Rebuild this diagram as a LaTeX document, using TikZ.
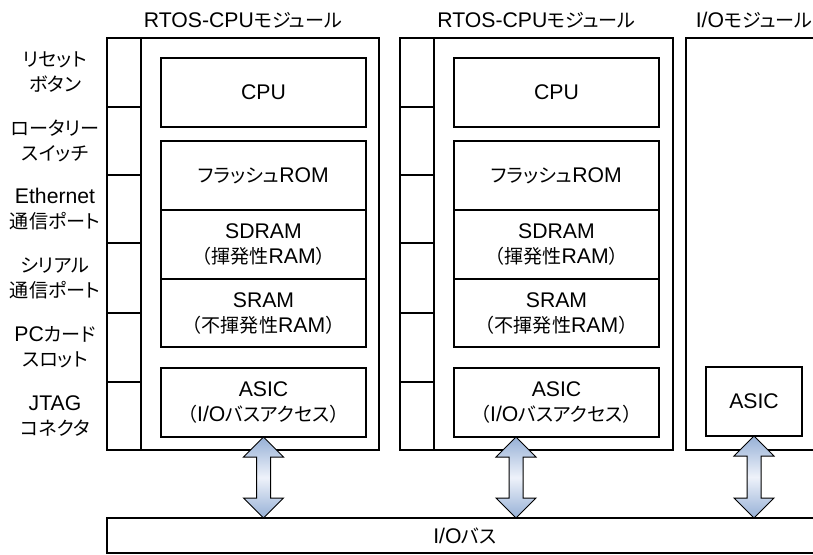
\documentclass[tikz,border=0pt]{standalone}
\usepackage{fontspec}
\setmainfont{Liberation Sans}
\newfontfamily\jp[RawFeature=+palt,Scale=0.9]{Noto Sans CJK JP}
\newfontfamily\jpf[Scale=0.9]{Noto Sans CJK JP}
\usetikzlibrary{calc}
\definecolor{arrowblue}{RGB}{150,176,214}
\definecolor{arrowlight}{RGB}{238,242,250}
% box from pixel corners: name, x1, y1, x2, y2, text
\newcommand\pxbox[6]{%
  \node[box, minimum width={(#4-#2)*0.5pt}, minimum height={(#5-#3)*0.5pt}]
    (#1) at ({(#2+#4)/2},{(#3+#5)/2}) {#6};}
\begin{document}
\begin{tikzpicture}[x=0.5pt,y=-0.5pt,
  font=\fontsize{10.6}{12.5}\selectfont,
  line width=0.8pt,
  box/.style={draw, inner sep=0pt, outer sep=0pt, align=center},
  lbl/.style={inner sep=0pt, align=center},
  busarrow/.style={draw, line width=0.5pt, line join=miter,
    top color=arrowblue, bottom color=arrowblue, middle color=arrowlight}]
\useasboundingbox (0,0) rectangle (813,554);
\clip (0,0) rectangle (813,554);

% modules
\pxbox{mod1}{107}{38}{379}{450}{}
\pxbox{mod2}{400}{38}{673}{450}{}
\pxbox{mod3}{686}{38}{850}{450}{}

% connector strips
\foreach \i/\ya/\yb in {1/38/107,2/107/175,3/175/243,4/243/313,5/313/382,6/382/450}{
  \pxbox{sa\i}{107}{\ya}{141}{\yb}{}
  \pxbox{sb\i}{400}{\ya}{434}{\yb}{}
}

% titles
\node[lbl] (t1) at (243,20) {RTOS-CPU{\jp モジュール}};
\node[lbl] (t2) at (536.5,20) {RTOS-CPU{\jp モジュール}};
\node[lbl, anchor=west] (t3) at (695,20) {I/O{\jp モジュール}};

% left labels
\node[lbl] (l1) at (55,72.5) {{\jp リセット}\\{\jp ボタン}};
\node[lbl] (l2) at (55,141) {{\jp ロータリー}\\{\jp スイッチ}};
\node[lbl] (l3) at (55,209) {Ethernet\\{\jp 通信ポート}};
\node[lbl] (l4) at (55,278) {{\jp シリアル}\\{\jp 通信ポート}};
\node[lbl] (l5) at (55,347.5) {PC{\jp カード}\\{\jp スロット}};
\node[lbl] (l6) at (55,416) {JTAG\\{\jp コネクタ}};

% module 1 inner boxes
\pxbox{cpu1}{161}{58}{366}{127}{CPU}
\pxbox{rom1}{161}{141}{366}{210}{{\jp フラッシュ}ROM}
\pxbox{sdram1}{161}{210}{366}{279}{SDRAM\\{\jpf （}{\jp 揮発性}RAM{\jpf ）}}
\pxbox{sram1}{161}{279}{366}{347}{SRAM\\{\jpf （}{\jp 不揮発性}RAM{\jpf ）}}
\pxbox{asic1}{161}{368}{366}{437}{ASIC\\{\jpf （}I/O{\jp バスアクセス}{\jpf ）}}

% module 2 inner boxes
\pxbox{cpu2}{454}{58}{659}{127}{CPU}
\pxbox{rom2}{454}{141}{659}{210}{{\jp フラッシュ}ROM}
\pxbox{sdram2}{454}{210}{659}{279}{SDRAM\\{\jpf （}{\jp 揮発性}RAM{\jpf ）}}
\pxbox{sram2}{454}{279}{659}{347}{SRAM\\{\jpf （}{\jp 不揮発性}RAM{\jpf ）}}
\pxbox{asic2}{454}{368}{659}{437}{ASIC\\{\jpf （}I/O{\jp バスアクセス}{\jpf ）}}

% module 3
\pxbox{asic3}{706}{367}{802}{436}{ASIC}

% bus
\pxbox{bus}{107}{518}{850}{553}{}
\node[lbl] (buslbl) at (465,535.5) {I/O{\jp バス}};

% arrows
\path (asic1.south) coordinate (a1t);
\path (a1t |- bus.north) coordinate (a1b);
\path ([shift={(-40.5,0)}]asic2.south) coordinate (a2t);
\path (a2t |- bus.north) coordinate (a2b);
\path (asic3.south) coordinate (a3t);
\path (a3t |- bus.north) coordinate (a3b);
\foreach \t/\b in {a1t/a1b,a2t/a2b,a3t/a3b}{
  \draw[busarrow] (\t) -- ++(20,20) -- ++(-13,0) -- ([shift={(7,-20)}]\b)
    -- ++(13,0) -- (\b) -- ++(-20,-20) -- ++(13,0) -- ([shift={(-7,20)}]\t)
    -- ++(-13,0) -- cycle;
}
\end{tikzpicture}
\end{document}
